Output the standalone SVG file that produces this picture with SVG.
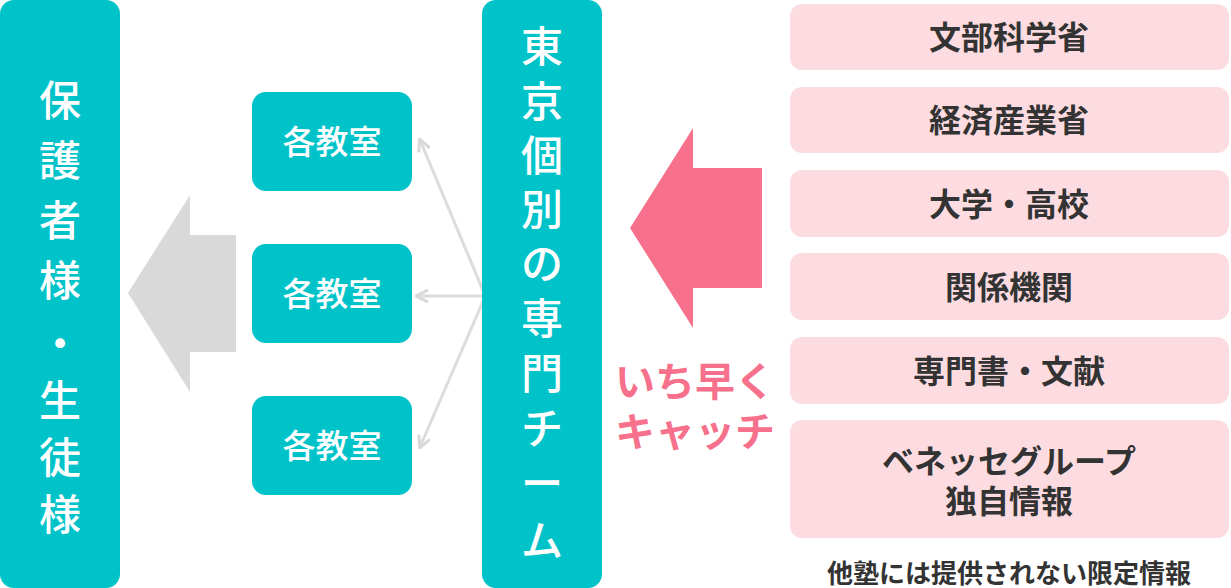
<svg xmlns="http://www.w3.org/2000/svg" width="1231" height="588" viewBox="0 0 1231 588">
<style>
.t{fill:#00C3CA}
.w{fill:#fff;font-family:"Noto Sans CJK JP",sans-serif;font-weight:500;text-anchor:middle}
.p{fill:#FDDCE1}
.d{fill:#333;font-family:"Noto Sans CJK JP",sans-serif;font-weight:700;font-size:32px;text-anchor:middle}
.k{fill:#F7718C;font-family:"Noto Sans CJK JP",sans-serif;font-weight:700;font-size:40px;text-anchor:middle}
</style>
<defs><marker id="ah" viewBox="0 0 14 14" refX="12" refY="7" markerWidth="14" markerHeight="14" markerUnits="userSpaceOnUse" orient="auto"><path d="M1,1 L13,7 L1,13" fill="none" stroke="#d9d9d9" stroke-width="3"/></marker></defs>
<g id="guardians"><rect class="t" x="0" y="0" width="120" height="588" rx="14"/>
<text class="w" font-size="42"><tspan x="60" y="116">保</tspan><tspan x="60" y="176">護</tspan><tspan x="60" y="236">者</tspan><tspan x="60" y="296">様</tspan><tspan x="60" y="359">・</tspan><tspan x="60" y="416">生</tspan><tspan x="60" y="473">徒</tspan><tspan x="60" y="530">様</tspan></text></g>
<g id="grayArrow"><polygon points="128,293 190,195 190,235 236,235 236,352 190,352 190,392" fill="#d9d9d9"/></g>
<g id="class1"><rect class="t" x="252" y="92" width="160" height="99" rx="14"/><text class="w" font-size="33" x="332" y="154">各教室</text></g>
<g id="class2"><rect class="t" x="252" y="244" width="160" height="99" rx="14"/><text class="w" font-size="33" x="332" y="306">各教室</text></g>
<g id="class3"><rect class="t" x="252" y="396" width="160" height="99" rx="14"/><text class="w" font-size="33" x="332" y="458">各教室</text></g>
<g id="connectors" stroke="#dcdcdc" stroke-width="3" fill="none">
<line x1="484" y1="293" x2="420" y2="140" marker-end="url(#ah)"/>
<line x1="484" y1="296" x2="417" y2="296" marker-end="url(#ah)"/>
<line x1="484" y1="299" x2="420" y2="447" marker-end="url(#ah)"/>
</g>
<g id="team"><rect class="t" x="482" y="0" width="120" height="588" rx="14"/>
<text class="w" font-size="42"><tspan x="542" y="62">東</tspan><tspan x="542" y="117">京</tspan><tspan x="542" y="171">個</tspan><tspan x="542" y="225">別</tspan><tspan x="542" y="279">の</tspan><tspan x="542" y="334">専</tspan><tspan x="542" y="389">門</tspan><tspan x="542" y="444">チ</tspan><tspan x="542" y="499">ー</tspan><tspan x="542" y="556">ム</tspan></text></g>
<g id="pinkArrow"><polygon points="630,228 693,128 693,168 762,168 762,288 693,288 693,328" fill="#F7718C"/></g>
<g id="catch"><text class="k" x="695" y="396">いち早く</text><text class="k" x="695" y="446">キャッチ</text></g>
<g id="s1"><rect class="p" x="790" y="4" width="439" height="66" rx="12"/><text class="d" x="1009" y="49">文部科学省</text></g>
<g id="s2"><rect class="p" x="790" y="87" width="439" height="66" rx="12"/><text class="d" x="1009" y="132">経済産業省</text></g>
<g id="s3"><rect class="p" x="790" y="170" width="439" height="67" rx="12"/><text class="d" x="1009" y="216">大学・高校</text></g>
<g id="s4"><rect class="p" x="790" y="253" width="439" height="67" rx="12"/><text class="d" x="1009" y="299">関係機関</text></g>
<g id="s5"><rect class="p" x="790" y="337" width="439" height="67" rx="12"/><text class="d" x="1009" y="383">専門書・文献</text></g>
<g id="s6"><rect class="p" x="790" y="420" width="439" height="118" rx="12"/><text class="d" x="1009" y="473">ベネッセグループ</text><text class="d" x="1009" y="513">独自情報</text></g>
<text id="caption" x="1009" y="583" style="fill:#333;font-family:'Noto Sans CJK JP',sans-serif;font-weight:700;font-size:26px;text-anchor:middle">他塾には提供されない限定情報</text>
</svg>
